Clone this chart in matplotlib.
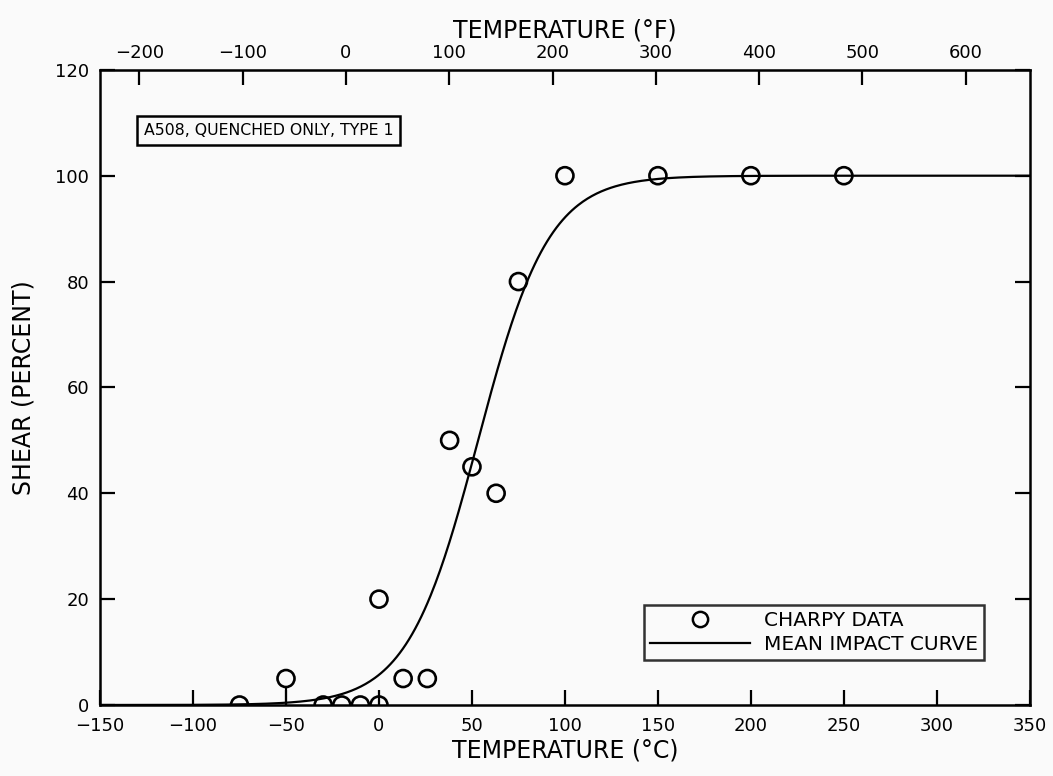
import numpy as np
import matplotlib
matplotlib.use('Agg')
import matplotlib.pyplot as plt
from matplotlib.lines import Line2D

plt.rcParams['font.family'] = ['DejaVu Sans']

# Charpy data (temperature in C, shear in percent)
temp_c = [-75, -50, -30, -20, -10, 0, 0, 13, 26, 38, 50, 63, 75, 100, 150, 200, 250]
shear = [0, 5, 0, 0, 0, 0, 20, 5, 5, 50, 45, 40, 80, 100, 100, 100, 100]

# mean impact curve (tanh fit parameters)
lower_shelf = 0.0
upper_shelf = 100.0
t_mid = 53.3
half_width = 38.0

x_ticks = [-150, -100, -50, 0, 50, 100, 150, 200, 250, 300, 350]
y_ticks = [0, 20, 40, 60, 80, 100, 120]
f_ticks = [-200, -100, 0, 100, 200, 300, 400, 500, 600]


def c2f(c):
    return np.asarray(c) * 9.0 / 5.0 + 32.0


def f2c(f):
    return (np.asarray(f) - 32.0) * 5.0 / 9.0


def lab(v):
    return f'{v}' if v >= 0 else f'\u2212{abs(v)}'


fig = plt.figure(figsize=(10.53, 7.76), dpi=100, facecolor='#fafafa')
ax = fig.add_axes([0.095, 0.0915, 0.883, 0.8185])
ax.set_facecolor('#fafafa')

tt = np.linspace(-150, 350, 600)
curve = lower_shelf + (upper_shelf - lower_shelf) / 2 * (1 + np.tanh((tt - t_mid) / half_width))
ax.plot(tt, curve, color='black', linewidth=1.6)

sc = ax.scatter(temp_c, shear, s=150, facecolors='none', edgecolors='black',
                linewidths=1.9, zorder=5)
sc.set_clip_path(ax.patch)
# small stem under the -50 C point, as on the original
ax.vlines(temp_c[1], 0, shear[1] - 1.6, color='black', linewidth=1.5)

ax.set_xlim(-150, 350)
ax.set_ylim(0, 120)
ax.set_xticks(x_ticks)
ax.set_yticks(y_ticks)
ax.set_xticklabels([lab(v) for v in x_ticks])
ax.tick_params(direction='in', length=11, width=1.6, labelsize=13,
               top=False, right=True)
ax.tick_params(axis='x', pad=9)
ax.tick_params(axis='y', pad=8)
for s in ax.spines.values():
    s.set_linewidth(1.8)
    s.set_zorder(6)

ax.set_xlabel('TEMPERATURE (°C)', fontsize=17, labelpad=2)
ax.set_ylabel('SHEAR (PERCENT)', fontsize=17, labelpad=14)

sec = ax.secondary_xaxis('top', functions=(c2f, f2c))
sec.set_xticks(f_ticks)
sec.set_xticklabels([lab(v) for v in f_ticks])
sec.tick_params(direction='in', length=11, width=1.6, labelsize=13, pad=6)
sec.set_xlabel('TEMPERATURE (°F)', fontsize=17, labelpad=4)

ax.text(0.047, 0.905, 'A508, QUENCHED ONLY, TYPE 1', transform=ax.transAxes,
        fontsize=11.3, ha='left', va='center',
        bbox=dict(boxstyle='square,pad=0.45', facecolor='none',
                  edgecolor='black', linewidth=1.8))

handles = [Line2D([], [], linestyle='none', marker='o', markersize=11,
                  markerfacecolor='none', markeredgecolor='black', markeredgewidth=1.8),
           Line2D([], [], color='black', linewidth=1.6)]
labels = ['CHARPY DATA', 'MEAN IMPACT CURVE']
leg = ax.legend(handles, labels, loc='lower right',
                bbox_to_anchor=(0.962, 0.055), fontsize=14.5, frameon=True,
                fancybox=False, borderpad=0.3, handlelength=5.0,
                handletextpad=0.7, labelspacing=0.25, markerfirst=True)
leg.get_frame().set_edgecolor('black')
leg.get_frame().set_linewidth(1.8)
leg.get_frame().set_facecolor('none')

fig.savefig('out.png', dpi=100, facecolor=fig.get_facecolor())
